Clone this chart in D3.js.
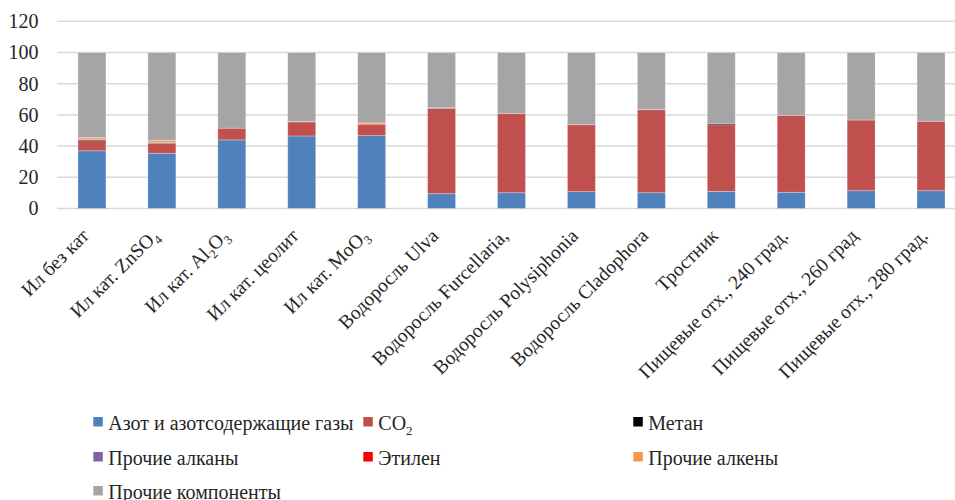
<!DOCTYPE html>
<html>
<head>
<meta charset="utf-8">
<script src="https://cdn.jsdelivr.net/npm/d3@7"></script>
<style>
  html, body { margin: 0; padding: 0; background: #ffffff; }
  svg { display: block; }
  svg text { fill: #262626; }
</style>
</head>
<body>
<svg id="chart" width="955" height="500"></svg>
<script>
// Sample names; each label is a list of [text, isSubscript] pieces
const categories = [
  [["Ил без кат", false]],
  [["Ил кат. ZnSO", false], ["4", true]],
  [["Ил кат. Al", false], ["2", true], ["O", false], ["3", true]],
  [["Ил кат. цеолит", false]],
  [["Ил кат. MoO", false], ["3", true]],
  [["Водоросль Ulva", false]],
  [["Водоросль Furcellaria,", false]],
  [["Водоросль Polysiphonia", false]],
  [["Водоросль Cladophora", false]],
  [["Тростник", false]],
  [["Пищевые отх., 240 град.", false]],
  [["Пищевые отх., 260 град", false]],
  [["Пищевые отх., 280 град.", false]]
];

// Gas composition, %
const nitrogen   = [37.0, 35.4, 44.0, 46.5, 46.7,  9.5, 10.1, 10.8, 10.1, 11.0, 10.4, 11.4, 11.4];
const co2        = [ 6.5,  6.4,  7.5,  9.0,  7.0, 54.7, 50.7, 42.9, 53.2, 42.7, 49.3, 45.3, 44.5];
const methane    = [ 0.6,  0.2,  0.0,  0.0,  0.0,  0.0,  0.0,  0.0,  0.0,  0.8,  0.0,  0.0,  0.0];
const alkanes    = [ 0.3,  0.5,  0.0,  0.4,  0.0,  0.4,  0.0,  0.0,  0.3,  0.0,  0.0,  0.0,  0.0];
const ethylene   = [ 0.2,  0.1,  0.0,  0.0,  0.6,  0.0,  0.0,  0.0,  0.0,  0.0,  0.0,  0.0,  0.0];
const alkenes    = [ 0.8,  1.2,  0.0,  0.0,  0.5,  0.0,  0.0,  0.0,  0.0,  0.0,  0.0,  0.0,  0.0];
const otherParts = [54.6, 56.2, 48.5, 44.1, 45.2, 35.4, 39.2, 46.3, 36.4, 45.5, 40.3, 43.3, 44.1];

const yTicks = [0, 20, 40, 60, 80, 100, 120];

const seriesNames = [
  [["Азот и азотсодержащие газы", false]],
  [["CO", false], ["2", true]],
  [["Метан", false]],
  [["Прочие алканы", false]],
  [["Этилен", false]],
  [["Прочие алкены", false]],
  [["Прочие компоненты", false]]
];
const seriesValues = [nitrogen, co2, methane, alkanes, ethylene, alkenes, otherParts];
const seriesColors = ["#4F81BD", "#C0504D", "#000000", "#8064A2", "#FF0000", "#F79646", "#A5A5A5"];

const FONT = "'Liberation Serif', 'Times New Roman', Times, serif";
const FS = 20;
const LABEL_FS = 19.5;

const svg = d3.select("#chart");

const x = d3.scaleBand()
  .domain(d3.range(categories.length))
  .range([57, 966])
  .paddingInner(0.6)
  .paddingOuter(0.3);

const y = d3.scaleLinear().domain([0, 120]).range([208.5, 21.3]);

// Horizontal gridlines
svg.append("g")
  .selectAll("line")
  .data(yTicks)
  .join("line")
  .attr("x1", 57).attr("x2", 966)
  .attr("y1", d => y(d)).attr("y2", d => y(d))
  .attr("stroke", "#D9D9D9")
  .attr("stroke-width", 1.5);

// Y axis labels
const yAxis = d3.axisLeft(y).tickValues(yTicks).tickSize(0).tickPadding(0);
const yg = svg.append("g").attr("transform", "translate(38.5,0)").call(yAxis)
  .attr("font-family", FONT).attr("font-size", FS);
yg.select(".domain").remove();
yg.selectAll("text").attr("fill", "#262626");

// Stack the components
const rows = categories.map((c, i) => {
  const r = { idx: i };
  seriesValues.forEach((s, k) => { r["s" + k] = s[i]; });
  return r;
});
const keys = seriesValues.map((s, k) => "s" + k);
const stacked = d3.stack().keys(keys)(rows);

svg.append("g")
  .selectAll("g")
  .data(stacked)
  .join("g")
  .attr("fill", (d, k) => seriesColors[k])
  .selectAll("rect")
  .data(d => d.filter(p => p[1] - p[0] > 0))
  .join("rect")
  .attr("x", p => x(p.data.idx))
  .attr("width", x.bandwidth())
  .attr("y", p => y(p[1]))
  .attr("height", p => y(p[0]) - y(p[1]))
  .attr("stroke", "rgba(255,255,255,0.35)")
  .attr("stroke-width", 0.8);

// Writes a label made of normal and subscript pieces into a text element
function writePieces(textSel, pieces, size) {
  pieces.forEach(([t, sub], i) => {
    const prevSub = i > 0 && pieces[i - 1][1];
    const ts = textSel.append("tspan").text(t);
    if (sub) {
      ts.attr("font-size", size * 0.65).attr("dy", prevSub ? 0 : size * 0.25);
    } else if (prevSub) {
      ts.attr("dy", -size * 0.25);
    }
  });
}

// Category labels, rotated
const xl = svg.append("g").attr("font-family", FONT);
categories.forEach((c, i) => {
  const cx = x(i) + x.bandwidth() / 2;
  const t = xl.append("text")
    .attr("transform", `translate(${cx - 2},${237}) rotate(-45)`)
    .attr("text-anchor", "end")
    .attr("font-size", LABEL_FS);
  writePieces(t, c, LABEL_FS);
});

// Legend
const legendPos = [
  [93.3, 421.5], [363.3, 421.5], [633.3, 421.5],
  [93.3, 456.5], [363.3, 456.5], [633.3, 456.5],
  [93.3, 490.5]
];
const lg = svg.append("g").attr("font-family", FONT);
seriesNames.forEach((name, k) => {
  const [lx, ly] = legendPos[k];
  lg.append("rect")
    .attr("x", lx).attr("y", ly - 4.5)
    .attr("width", 9.5).attr("height", 9.5)
    .attr("fill", seriesColors[k]);
  const t = lg.append("text")
    .attr("x", lx + 15).attr("y", ly + 8)
    .attr("font-size", FS);
  writePieces(t, name, FS);
});
</script>
</body>
</html>
